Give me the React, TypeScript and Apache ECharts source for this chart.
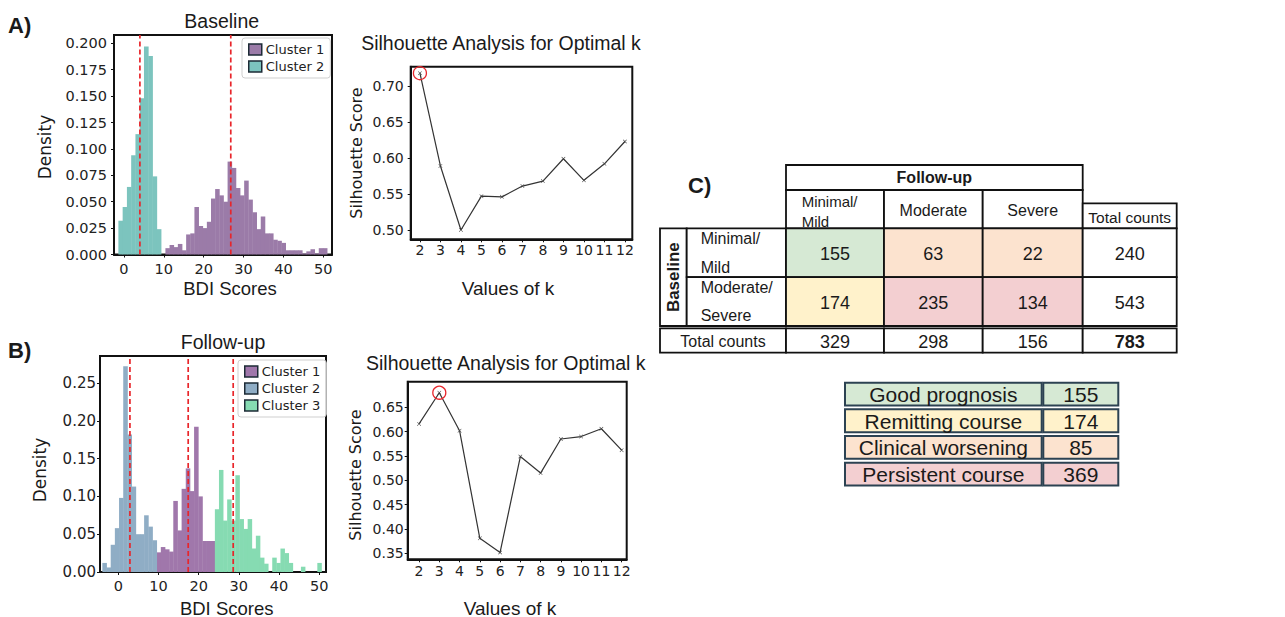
import React, { useEffect, useRef } from "react";
import * as echarts from "echarts";

// ---------------- Data ----------------
// Panel A (Baseline) histogram densities
const baselineCluster1 = [0.006, 0.009, 0.007, 0.010, 0.004, 0.019, 0.020, 0.045, 0.027, 0.025, 0.031, 0.053, 0.062, 0.056, 0.050, 0.088, 0.082, 0.063, 0.056, 0.070, 0.052, 0.040, 0.024, 0.036, 0.020, 0.020, 0.014, 0.013, 0.011, 0.004, 0.004, 0.004, 0.004, 0.001, 0.003, 0.005, 0.001, 0.006, 0.006];
const baselineCluster1Bins = { start: 10.4, width: 1.04 };
const baselineCluster2 = [0.032, 0.045, 0.064, 0.094, 0.114, 0.148, 0.197, 0.188, 0.074, 0.024];
const baselineCluster2Bins = { start: -1.4, width: 1.07 };
const baselineCentroids = [4.0, 26.8];

// Panel B (Follow-up) histogram densities
const followCluster1 = [0.026, 0.033, 0.030, 0.027, 0.094, 0.055, 0.110, 0.137, 0.107, 0.192, 0.100, 0.041, 0.041, 0.041];
const followCluster1Bins = { start: 9.55, width: 1.035 };
const followCluster2 = [0.012, 0.006, 0.036, 0.058, 0.098, 0.272, 0.182, 0.113, 0.050, 0.050, 0.075, 0.060, 0.042];
const followCluster2Bins = { start: -3.97, width: 1.04 };
const followCluster3 = [0.083, 0.135, 0.068, 0.096, 0.068, 0.128, 0.070, 0.057, 0.070, 0.031, 0.048, 0.019, 0.011, 0, 0.019, 0.012, 0.031, 0.025, 0.012, 0, 0, 0.007, 0, 0, 0, 0.012];
const followCluster3Bins = { start: 24.04, width: 1.02 };
const followCentroids = [2.9, 17.4, 28.6];

// Silhouette scores
const kValues = [2, 3, 4, 5, 6, 7, 8, 9, 10, 11, 12];
const silBaseline = [0.718, 0.589, 0.500, 0.547, 0.546, 0.561, 0.568, 0.599, 0.569, 0.592, 0.623];
const silFollow = [0.616, 0.680, 0.602, 0.381, 0.352, 0.549, 0.515, 0.585, 0.590, 0.606, 0.562];

// Tick labels
const bdiTicks = [0, 10, 20, 30, 40, 50];
const densityTicksA = [0, 0.025, 0.05, 0.075, 0.1, 0.125, 0.15, 0.175, 0.2];
const densityTicksB = [0, 0.05, 0.1, 0.15, 0.2, 0.25];
const silTicksA = [0.5, 0.55, 0.6, 0.65, 0.7];
const silTicksB = [0.35, 0.4, 0.45, 0.5, 0.55, 0.6, 0.65];

// Table C
const followCols = ["Minimal/\nMild", "Moderate", "Severe"];
const baseRows = ["Minimal/\nMild", "Moderate/\nSevere"];
const counts = [
  [155, 63, 22],
  [174, 235, 134],
];
const cellOutcome = [
  ["good", "worse", "worse"],
  ["remit", "persist", "persist"],
];
const rowTotals = [240, 543];
const colTotals = [329, 298, 156];
const grandTotal = 783;

const outcomes = ["Good prognosis", "Remitting course", "Clinical worsening", "Persistent course"];
const outcomeKeys = ["good", "remit", "worse", "persist"];
const outcomeCounts = [155, 174, 85, 369];

// ---------------- Styles ----------------
const TICK_FONT = "DejaVu Sans";
const UI_FONT = "Liberation Sans";
const PURPLE_A = "#9b7ba8";
const TEAL_A = "#7cc4be";
const PURPLE_B = "#a077ab";
const BLUE_B = "#8fadc5";
const GREEN_B = "#86dbb2";
const RED = "#e8262b";
const OUTCOME_COLORS: Record<string, string> = {
  good: "#d6e9d4",
  remit: "#fff2cb",
  worse: "#fce3cf",
  persist: "#f3cfd1",
};

function histSeries(name: string, vals: number[], bins: { start: number; width: number }, color: string, idx: number) {
  return {
    type: "custom",
    name,
    xAxisIndex: idx,
    yAxisIndex: idx,
    itemStyle: { color },
    silent: true,
    z: 2,
    encode: { x: [0, 1], y: 2 },
    data: vals.map((h, i) => [bins.start + i * bins.width, bins.start + (i + 1) * bins.width, h]),
    renderItem: (_p: any, api: any) => {
      const a = api.coord([api.value(0), api.value(2)]);
      const b = api.coord([api.value(1), 0]);
      return {
        type: "rect",
        shape: { x: a[0], y: a[1], width: b[0] - a[0] + 0.4, height: b[1] - a[1] },
        style: { fill: color },
      };
    },
  };
}

function vline(x: number, top: number, idx: number) {
  return {
    type: "line",
    xAxisIndex: idx,
    yAxisIndex: idx,
    data: [
      [x, 0],
      [x, top],
    ],
    symbol: "none",
    silent: true,
    z: 5,
    lineStyle: { color: RED, width: 1.7, type: [5, 3] },
  };
}

const XMARK = "path://M0,1L1,0L5,4L9,0L10,1L6,5L10,9L9,10L5,6L1,10L0,9L4,5Z";

function silSeries(vals: number[], idx: number) {
  let best = 0;
  vals.forEach((v, i) => {
    if (v > vals[best]) best = i;
  });
  return {
    type: "line",
    xAxisIndex: idx,
    yAxisIndex: idx,
    data: kValues.map((k, i) => [k, vals[i]]),
    symbol: XMARK,
    symbolSize: 4,
    itemStyle: { color: "#444" },
    lineStyle: { color: "#333", width: 1.2 },
    silent: true,
    markPoint: {
      silent: true,
      symbol: "circle",
      symbolSize: 13,
      itemStyle: { color: "rgba(0,0,0,0)", borderColor: RED, borderWidth: 1.3 },
      label: { show: false },
      data: [{ coord: [kValues[best], vals[best]] }],
    },
  };
}

function valueAxis(idx: number, min: number, max: number, ticks: number[], fmt: (v: number) => string, margin: number, size = 14) {
  return {
    type: "value",
    gridIndex: idx,
    min,
    max,
    axisLine: { show: true, onZero: false, lineStyle: { color: "#111", width: 2 } },
    axisTick: { show: true, length: 3, customValues: ticks, lineStyle: { color: "#111" } },
    axisLabel: {
      show: true,
      customValues: ticks,
      formatter: (v: number) => fmt(v),
      margin,
      color: "#222",
      fontFamily: TICK_FONT,
      fontSize: size,
    },
    splitLine: { show: false },
  };
}

function legendOf(left: number, top: number, items: { name: string; color: string }[]) {
  return {
    left,
    top,
    orient: "vertical",
    selectedMode: false,
    icon: "rect",
    itemWidth: 13,
    itemHeight: 11,
    itemGap: 4,
    padding: [5, 6, 5, 6],
    backgroundColor: "rgba(255,255,255,0.85)",
    borderColor: "#cfcfcf",
    borderWidth: 1,
    borderRadius: 3,
    textStyle: { fontFamily: TICK_FONT, fontSize: 13, color: "#222", padding: [0, 0, 0, -1] },
    data: items.map((it) => ({
      name: it.name,
      itemStyle: { color: it.color, borderColor: "#1d2b36", borderWidth: 1.5 },
    })),
  };
}

function txt(t: string, x: number, y: number, size: number, opts: any = {}) {
  return {
    type: "text",
    x,
    y,
    rotation: opts.rot ? Math.PI / 2 : 0,
    silent: true,
    z: 10,
    style: {
      text: t,
      fontSize: size,
      fontFamily: opts.font || UI_FONT,
      fontWeight: opts.bold ? "bold" : "normal",
      fill: opts.fill || "#1a1a1a",
      align: opts.align || "center",
      verticalAlign: "middle",
    },
  };
}

function box(x0: number, y0: number, x1: number, y1: number, fill: string, stroke = "#111", lw = 1.8) {
  return {
    type: "rect",
    silent: true,
    z: 8,
    shape: { x: x0, y: y0, width: x1 - x0, height: y1 - y0 },
    style: { fill, stroke, lineWidth: lw },
  };
}

function buildTable() {
  const els: any[] = [];
  const TX = [660, 686.7, 786, 884, 982.7, 1082.7, 1176.7];
  const headTop = 165, headMid = 190, headBot = 228.3, totHeadTop = 203.3;
  const rowH = 48.85;
  const totTop = 328.3, totBot = 352.7;
  // Follow-up header
  els.push(box(TX[2], headTop, TX[5], headMid, "#fff"));
  els.push(txt("Follow-up", (TX[2] + TX[5]) / 2, (headTop + headMid) / 2, 16, { bold: true }));
  followCols.forEach((c, j) => {
    const x0 = TX[2 + j], x1 = TX[3 + j];
    els.push(box(x0, headMid, x1, headBot, "#fff"));
    const lines = c.split("\n");
    if (lines.length > 1) {
      lines.forEach((ln, k) => els.push(txt(ln, x0 + 15.7, 201.7 + k * 20, 15, { align: "left" })));
    } else {
      els.push(txt(c, (x0 + x1) / 2, 210.7, 16));
    }
  });
  els.push(box(TX[5], totHeadTop, TX[6], headBot, "#fff"));
  els.push(txt("Total counts", (TX[5] + TX[6]) / 2, 217.5, 15.5));
  // Baseline vertical label
  els.push(box(TX[0], headBot, TX[1], headBot + 2 * rowH, "#fff"));
  els.push(txt("Baseline", (TX[0] + TX[1]) / 2, headBot + rowH, 17, { bold: true, rot: true }));
  baseRows.forEach((r, i) => {
    const y0 = headBot + i * rowH, y1 = y0 + rowH, yc = (y0 + y1) / 2;
    els.push(box(TX[1], y0, TX[2], y1, "#fff"));
    const lines = r.split("\n");
    lines.forEach((ln, k) => els.push(txt(ln, 700.7, yc - 14 + k * 28.3, 16, { align: "left" })));
    counts[i].forEach((v, j) => {
      els.push(box(TX[2 + j], y0, TX[3 + j], y1, OUTCOME_COLORS[cellOutcome[i][j]]));
      els.push(txt(String(v), (TX[2 + j] + TX[3 + j]) / 2, yc + 1.5, 18));
    });
    els.push(box(TX[5], y0, TX[6], y1, "#fff"));
    els.push(txt(String(rowTotals[i]), (TX[5] + TX[6]) / 2, yc + 1.5, 18));
  });
  // Total row
  els.push(box(TX[0], totTop, TX[2], totBot, "#fff"));
  els.push(txt("Total counts", (TX[0] + TX[2]) / 2, (totTop + totBot) / 2 + 1, 16));
  colTotals.forEach((v, j) => {
    els.push(box(TX[2 + j], totTop, TX[3 + j], totBot, "#fff"));
    els.push(txt(String(v), (TX[2 + j] + TX[3 + j]) / 2, (totTop + totBot) / 2 + 1, 18));
  });
  els.push(box(TX[5], totTop, TX[6], totBot, "#fff"));
  els.push(txt(String(grandTotal), (TX[5] + TX[6]) / 2, (totTop + totBot) / 2 + 1, 18, { bold: true }));
  return els;
}

function buildOutcomes() {
  const els: any[] = [];
  const LX0 = 845, LX1 = 1041.7, VX0 = 1043.3, VX1 = 1118.3;
  const top0 = 382.7, step = 26.67, h = 22.8;
  outcomes.forEach((o, i) => {
    const y0 = top0 + i * step, y1 = y0 + h, yc = (y0 + y1) / 2 + 0.5;
    const fill = OUTCOME_COLORS[outcomeKeys[i]];
    els.push(box(LX0, y0, LX1, y1, fill, "#2c4252", 2));
    els.push(box(VX0, y0, VX1, y1, fill, "#2c4252", 2));
    els.push(txt(o, (LX0 + LX1) / 2, yc, 21));
    els.push(txt(String(outcomeCounts[i]), (VX0 + VX1) / 2, yc, 21));
  });
  return els;
}

export default function App() {
  const ref = useRef<HTMLDivElement>(null);
  useEffect(() => {
    if (!ref.current) return;
    const chart = echarts.init(ref.current, undefined, { renderer: "svg" });
    const yMaxA = 0.2079, yMaxB = 0.2857;
    const option: any = {
      animation: false,
      backgroundColor: "#ffffff",
      grid: [
        { left: 114, top: 35, width: 218, height: 219.5 },
        { left: 410.7, top: 66.7, width: 221.6, height: 172.6 },
        { left: 100, top: 356, width: 226, height: 216 },
        { left: 407.7, top: 381.7, width: 219, height: 177.6 },
      ].map((g) => ({ ...g, show: true, borderColor: "#111", borderWidth: 2, backgroundColor: "#fff", containLabel: false, outerBoundsMode: "none" })),
      xAxis: [
        valueAxis(0, -2.5, 52.2, bdiTicks, (v) => String(v), 7, 14.5),
        valueAxis(1, 1.55, 12.36, kValues, (v) => String(v), 4),
        valueAxis(2, -4.55, 51.7, bdiTicks, (v) => String(v), 6, 14.5),
        valueAxis(3, 1.44, 12.25, kValues, (v) => String(v), 5),
      ],
      yAxis: [
        valueAxis(0, 0, yMaxA, densityTicksA, (v) => v.toFixed(3), 7, 14.5),
        valueAxis(1, 0.487, 0.727, silTicksA, (v) => v.toFixed(2), 7),
        valueAxis(2, 0, yMaxB, densityTicksB, (v) => v.toFixed(2), 4, 15),
        valueAxis(3, 0.338, 0.7026, silTicksB, (v) => v.toFixed(2), 4),
      ],
      legend: [
        legendOf(242, 38, [
          { name: "Cluster 1", color: PURPLE_A },
          { name: "Cluster 2", color: TEAL_A },
        ]),
        legendOf(238, 360, [
          { name: "Cluster 1", color: PURPLE_B },
          { name: "Cluster 2", color: BLUE_B },
          { name: "Cluster 3", color: GREEN_B },
        ]),
      ],
      series: [
        histSeries("Cluster 1", baselineCluster1, baselineCluster1Bins, PURPLE_A, 0),
        histSeries("Cluster 2", baselineCluster2, baselineCluster2Bins, TEAL_A, 0),
        ...baselineCentroids.map((c) => vline(c, yMaxA, 0)),
        silSeries(silBaseline, 1),
        histSeries("Cluster 1", followCluster1, followCluster1Bins, PURPLE_B, 2),
        histSeries("Cluster 2", followCluster2, followCluster2Bins, BLUE_B, 2),
        histSeries("Cluster 3", followCluster3, followCluster3Bins, GREEN_B, 2),
        ...followCentroids.map((c) => vline(c, yMaxB, 2)),
        silSeries(silFollow, 3),
      ],
      graphic: [
        txt("A)", 8, 25, 22, { bold: true, align: "left" }),
        txt("Baseline", 221.7, 20.7, 19.5),
        txt("Density", 45, 147, 17, { rot: true, font: TICK_FONT }),
        txt("BDI Scores", 230, 288, 18.5),
        txt("Silhouette Analysis for Optimal k", 501, 43.3, 19.5),
        txt("Silhouette Score", 356.7, 153, 16, { rot: true, font: TICK_FONT }),
        txt("Values of k", 508, 288, 19),
        txt("B)", 8, 350, 22, { bold: true, align: "left" }),
        txt("Follow-up", 223, 341.7, 19.5),
        txt("Density", 40, 470, 17, { rot: true, font: TICK_FONT }),
        txt("BDI Scores", 226.7, 608, 18.5),
        txt("Silhouette Analysis for Optimal k", 505.8, 363.3, 19.5),
        txt("Silhouette Score", 355, 475, 16, { rot: true, font: TICK_FONT }),
        txt("Values of k", 510, 608, 19),
        txt("C)", 688, 185, 22, { bold: true, align: "left" }),
        ...buildTable(),
        ...buildOutcomes(),
      ],
    };
    chart.setOption(option);
    return () => chart.dispose();
  }, []);
  return <div ref={ref} style={{ position: "fixed", left: 0, top: 0, width: 1285, height: 617 }} />;
}
